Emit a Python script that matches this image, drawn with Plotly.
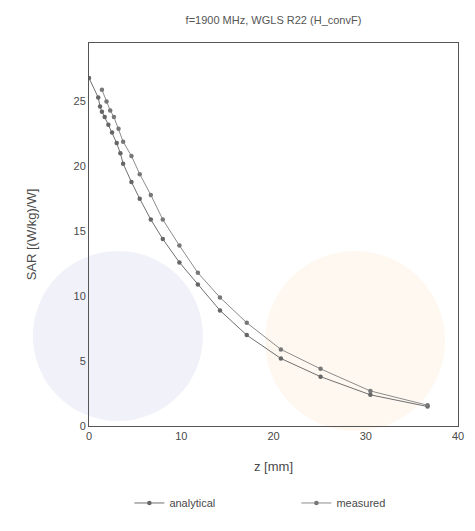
import plotly.graph_objects as go

title_text = "f=1900 MHz, WGLS R22 (H_convF)"
x_label = "z [mm]"
y_label = "SAR [(W/kg)/W]"

analytical_z = [0, 1.0, 1.2, 1.4, 1.7, 2.1, 2.5, 3.0, 3.4, 3.7, 4.6, 5.5, 6.7, 8.0, 9.8, 11.8, 14.2, 17.1, 20.8, 25.1, 30.5, 36.7]
analytical_sar = [26.8, 25.3, 24.6, 24.2, 23.8, 23.2, 22.6, 21.8, 21.0, 20.2, 18.8, 17.5, 15.9, 14.4, 12.6, 10.9, 8.9, 7.0, 5.2, 3.8, 2.4, 1.5]

measured_z = [1.4, 1.9, 2.3, 2.7, 3.2, 3.7, 4.6, 5.5, 6.7, 8.0, 9.8, 11.8, 14.2, 17.1, 20.8, 25.1, 30.5, 36.7]
measured_sar = [25.9, 25.0, 24.3, 23.8, 22.9, 21.9, 20.8, 19.4, 17.8, 15.9, 13.9, 11.8, 9.9, 7.95, 5.9, 4.4, 2.7, 1.6]

x_ticks = [0, 10, 20, 30, 40]
y_ticks = [0, 5, 10, 15, 20, 25]

font_family = "Liberation Sans, Arial, sans-serif"

fig = go.Figure()
fig.add_trace(go.Scatter(
    x=analytical_z, y=analytical_sar, name="analytical", mode="lines+markers",
    line=dict(color="#707070", width=1),
    marker=dict(color="#666666", size=4.5),
))
fig.add_trace(go.Scatter(
    x=measured_z, y=measured_sar, name="measured", mode="lines+markers",
    line=dict(color="#8c8c8c", width=1),
    marker=dict(color="#777777", size=4.5),
))

shapes = [
    dict(type="circle", xref="paper", yref="paper", x0=-0.152, x1=0.309, y0=0.013, y1=0.457,
         fillcolor="#f1f2f9", line=dict(width=0), layer="below"),
    dict(type="circle", xref="paper", yref="paper", x0=0.477, x1=0.965, y0=-0.013, y1=0.457,
         fillcolor="#fef8f0", line=dict(width=0), layer="below"),
]

fig.update_layout(
    width=475, height=531,
    margin=dict(l=81, r=25, t=35, b=113),
    paper_bgcolor="white", plot_bgcolor="white",
    font=dict(family=font_family, size=11, color="#4a4a4a"),
    title=dict(text=title_text, x=(81 + 450) / 2 / 475, xanchor="center", y=1 - 12 / 531, yanchor="middle",
               font=dict(size=11, color="#555555")),
    showlegend=True,
    legend=dict(orientation="h", x=0.562, xanchor="center", y=-0.201, yanchor="middle",
                font=dict(size=11, color="#4a4a4a"), itemwidth=30, entrywidth=122,
                entrywidthmode="pixels", bgcolor="rgba(0,0,0,0)"),
    shapes=shapes,
)
fig.update_xaxes(range=[0, 40], tickvals=x_ticks, title=dict(text=x_label, standoff=20),
                 showline=True, linecolor="#555555", linewidth=1, mirror=True, automargin=False,
                 showgrid=False, zeroline=False, ticks="", ticklen=0)
fig.update_yaxes(range=[0, 29.5], tickvals=y_ticks, title=dict(text=y_label, standoff=33),
                 showline=True, linecolor="#555555", linewidth=1, mirror=True, automargin=False,
                 showgrid=False, zeroline=False, ticks="", ticklen=0)

fig.write_html("out.html")
